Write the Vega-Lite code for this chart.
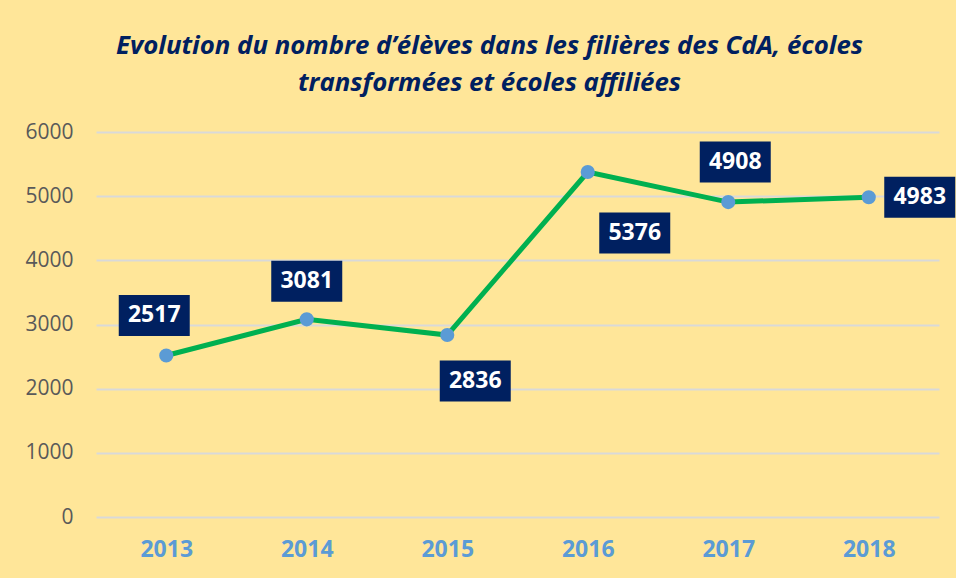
{
  "$schema": "https://vega.github.io/schema/vega-lite/v6.json",
  "width": 843,
  "height": 385,
  "autosize": {"type": "none"},
  "padding": {"left": 96, "top": 132, "right": 17, "bottom": 61},
  "background": "#FFE699",
  "title": {
    "text": ["Evolution du nombre d’élèves dans les filières des CdA, écoles", "transformées et écoles affiliées"],
    "font": "Open Sans",
    "fontSize": 25.8,
    "fontStyle": "italic",
    "fontWeight": "bold",
    "color": "#002060",
    "lineHeight": 37,
    "anchor": "middle",
    "dx": -28,
    "offset": 24
  },
  "data": {
    "values": [
      {"year": "2013", "eleves": 2517},
      {"year": "2014", "eleves": 3081},
      {"year": "2015", "eleves": 2836},
      {"year": "2016", "eleves": 5376},
      {"year": "2017", "eleves": 4908},
      {"year": "2018", "eleves": 4983}
    ]
  },
  "config": {"view": {"stroke": null}},
  "encoding": {
    "x": {
      "field": "year",
      "type": "ordinal",
      "scale": {"paddingInner": 0, "paddingOuter": 0},
      "axis": {
        "title": null,
        "domain": false,
        "ticks": false,
        "grid": false,
        "labelAngle": 0,
        "labelFont": "Open Sans",
        "labelFontSize": 23,
        "labelFontWeight": "bold",
        "labelColor": "#5B9BD5",
        "labelPadding": 21
      }
    },
    "y": {
      "field": "eleves",
      "type": "quantitative",
      "scale": {"domain": [0, 6000]},
      "axis": {
        "title": null,
        "values": [0, 1000, 2000, 3000, 4000, 5000, 6000],
        "format": "d",
        "domain": false,
        "ticks": false,
        "grid": true,
        "gridColor": "#D9D9D9",
        "gridWidth": 2,
        "labelFont": "Open Sans",
        "labelFontSize": 21,
        "labelColor": "#595959",
        "labelPadding": 23
      }
    }
  },
  "layer": [
    {"mark": {"type": "line", "color": "#00B050", "strokeWidth": 5}},
    {"mark": {"type": "point", "shape": "circle", "filled": true, "size": 200, "color": "#5B9BD5", "opacity": 1}},
    {
      "transform": [{"filter": "datum.year == '2013'"}],
      "layer": [
        {"mark": {"type": "point", "shape": "M-1,-0.577H1V0.577H-1Z", "size": 5041, "filled": true, "color": "#002060", "opacity": 1, "xOffset": -12, "yOffset": -40}},
        {"mark": {"type": "text", "font": "Open Sans", "fontSize": 23, "fontWeight": "bold", "color": "#FFFFFF", "align": "center", "baseline": "middle", "xOffset": -12, "yOffset": -40}, "encoding": {"text": {"field": "eleves", "type": "quantitative", "format": "d"}}}
      ]
    },
    {
      "transform": [{"filter": "datum.year == '2014'"}],
      "layer": [
        {"mark": {"type": "point", "shape": "M-1,-0.577H1V0.577H-1Z", "size": 5041, "filled": true, "color": "#002060", "opacity": 1, "xOffset": 0, "yOffset": -38}},
        {"mark": {"type": "text", "font": "Open Sans", "fontSize": 23, "fontWeight": "bold", "color": "#FFFFFF", "align": "center", "baseline": "middle", "xOffset": 0, "yOffset": -38}, "encoding": {"text": {"field": "eleves", "type": "quantitative", "format": "d"}}}
      ]
    },
    {
      "transform": [{"filter": "datum.year == '2015'"}],
      "layer": [
        {"mark": {"type": "point", "shape": "M-1,-0.577H1V0.577H-1Z", "size": 5041, "filled": true, "color": "#002060", "opacity": 1, "xOffset": 28, "yOffset": 46}},
        {"mark": {"type": "text", "font": "Open Sans", "fontSize": 23, "fontWeight": "bold", "color": "#FFFFFF", "align": "center", "baseline": "middle", "xOffset": 28, "yOffset": 46}, "encoding": {"text": {"field": "eleves", "type": "quantitative", "format": "d"}}}
      ]
    },
    {
      "transform": [{"filter": "datum.year == '2016'"}],
      "layer": [
        {"mark": {"type": "point", "shape": "M-1,-0.577H1V0.577H-1Z", "size": 5041, "filled": true, "color": "#002060", "opacity": 1, "xOffset": 47, "yOffset": 61}},
        {"mark": {"type": "text", "font": "Open Sans", "fontSize": 23, "fontWeight": "bold", "color": "#FFFFFF", "align": "center", "baseline": "middle", "xOffset": 47, "yOffset": 61}, "encoding": {"text": {"field": "eleves", "type": "quantitative", "format": "d"}}}
      ]
    },
    {
      "transform": [{"filter": "datum.year == '2017'"}],
      "layer": [
        {"mark": {"type": "point", "shape": "M-1,-0.577H1V0.577H-1Z", "size": 5041, "filled": true, "color": "#002060", "opacity": 1, "xOffset": 7, "yOffset": -40}},
        {"mark": {"type": "text", "font": "Open Sans", "fontSize": 23, "fontWeight": "bold", "color": "#FFFFFF", "align": "center", "baseline": "middle", "xOffset": 7, "yOffset": -40}, "encoding": {"text": {"field": "eleves", "type": "quantitative", "format": "d"}}}
      ]
    },
    {
      "transform": [{"filter": "datum.year == '2018'"}],
      "layer": [
        {"mark": {"type": "point", "shape": "M-1,-0.577H1V0.577H-1Z", "size": 5041, "filled": true, "color": "#002060", "opacity": 1, "xOffset": 51, "yOffset": 0}},
        {"mark": {"type": "text", "font": "Open Sans", "fontSize": 23, "fontWeight": "bold", "color": "#FFFFFF", "align": "center", "baseline": "middle", "xOffset": 51, "yOffset": 0}, "encoding": {"text": {"field": "eleves", "type": "quantitative", "format": "d"}}}
      ]
    }
  ]
}
